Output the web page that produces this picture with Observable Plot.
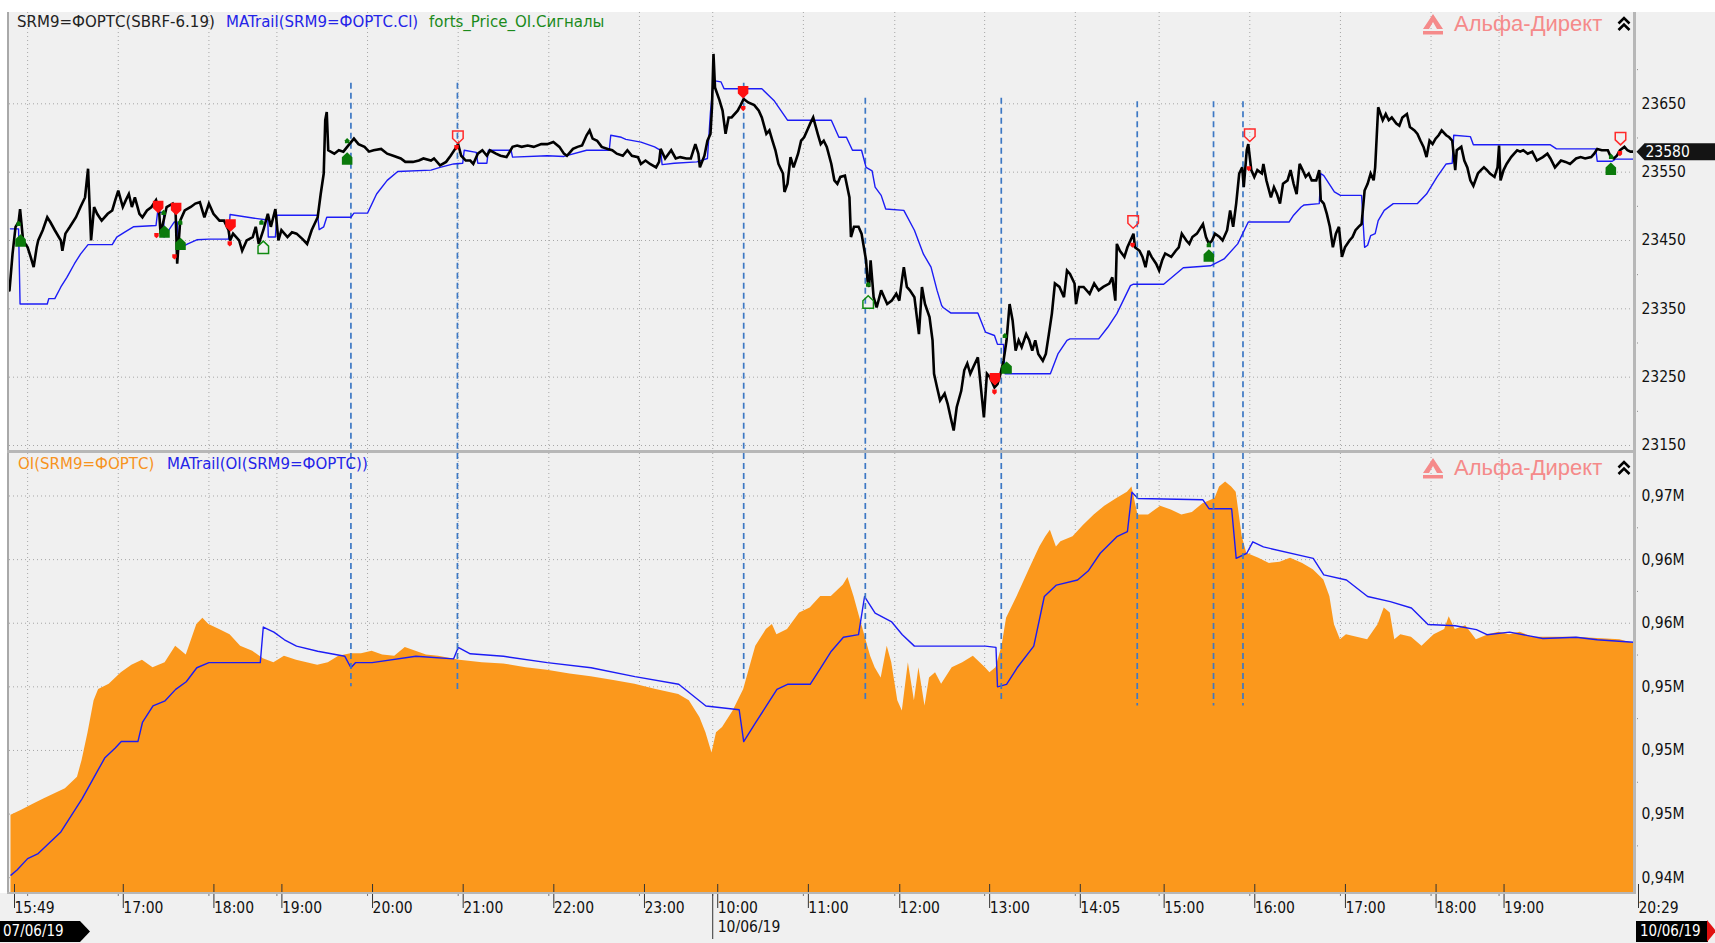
<!DOCTYPE html>
<html><head><meta charset="utf-8">
<script src="https://cdn.jsdelivr.net/npm/d3@7"></script>
<script src="https://cdn.jsdelivr.net/npm/@observablehq/plot@0.6"></script>
<style>
html,body{margin:0;padding:0;overflow:hidden;background:#fff;}
#wrap{position:relative;width:1715px;height:943px;background:#fff;overflow:hidden;}
.abs{position:absolute;}
.leg{position:absolute;font-family:"DejaVu Sans",sans-serif;font-size:15px;white-space:nowrap;line-height:18px;}
.logo{position:absolute;font-family:"Liberation Sans",Arial,sans-serif;font-size:22px;color:#f58a8a;white-space:nowrap;line-height:24px;}
.datebox{position:absolute;background:#000;color:#fff;font-family:"DejaVu Sans Condensed",sans-serif;font-size:15px;line-height:21px;height:21px;}
</style></head>
<body><div id="wrap">
<div class="abs" style="left:7px;top:12px;width:1708px;height:931px;background:#f0f0f0"></div>
<div class="abs" style="left:0;top:893px;width:1715px;height:50px;background:#f0f0f0"></div>
</div>
<script>
// ---------- DATA ----------
// x = trading minute index from 15:49 (07/06/19); session breaks removed
const timeTickIdx = [0, 72, 132, 177, 237, 297, 357, 417, 465.5, 525.5, 586, 645.5, 705.5, 761, 821, 881, 941, 986, 1075];
const timeTickLabels = ["15:49","17:00","18:00","19:00","20:00","21:00","22:00","23:00","10:00","11:00","12:00","13:00","14:05","15:00","16:00","17:00","18:00","19:00","20:29"];
const gridIdx = [12, 72, 132, 177, 237, 297, 357, 417, 465.5, 525.5, 586, 645.5, 705.5, 761, 821, 881, 941, 986];

const priceTicks = [23150, 23250, 23350, 23450, 23550, 23650];
const priceMinor = [23200, 23300, 23400, 23500, 23600, 23700];
const oiTicks = [940000, 945000, 950000, 955000, 960000, 965000, 970000];
const oiTickLabels = ["0,94M","0,95M","0,95M","0,95M","0,96M","0,96M","0,97M"];
const oiMinor = [942500, 947500, 952500, 957500, 962500, 967500];

const price = [[0,23377],[2,23430],[4,23470],[6,23477],[7,23496],[9,23450],[12,23440],[14,23426],[16,23411],[18,23440],[19,23450],[22,23465],[25,23484],[27,23477],[30,23465],[34,23450],[35,23435],[37,23460],[40,23470],[44,23484],[47,23499],[50,23513],[52,23555],[54,23450],[56,23499],[58,23489],[61,23479],[65,23489],[68,23494],[70,23509],[72,23523],[75,23499],[77,23509],[79,23518],[81,23499],[83,23513],[86,23489],[88,23484],[91,23494],[94,23499],[97,23509],[99,23494],[100,23460],[102,23479],[104,23499],[108,23504],[110,23489],[111,23416],[113,23479],[116,23494],[120,23499],[123,23504],[126,23506],[129,23484],[132,23504],[135,23489],[139,23479],[142,23479],[145,23465],[146,23450],[148,23460],[152,23450],[154,23435],[157,23450],[161,23455],[163,23470],[165,23445],[168,23465],[171,23489],[173,23470],[176,23496],[178,23450],[180,23465],[184,23455],[187,23462],[190,23460],[194,23452],[197,23445],[200,23465],[204,23484],[206,23518],[208,23548],[209,23626],[210,23638],[211,23582],[215,23577],[218,23582],[221,23580],[225,23591],[228,23599],[231,23591],[235,23587],[238,23580],[241,23582],[246,23584],[250,23577],[254,23574],[259,23570],[262,23565],[267,23565],[271,23567],[274,23570],[279,23567],
[281,23570],[285,23560],[289,23565],[292,23574],[295,23584],[297,23591],[299,23574],[302,23567],[305,23567],[307,23562],[310,23577],[313,23582],[316,23574],[318,23582],[322,23577],[325,23574],[329,23572],[333,23587],[336,23589],[339,23587],[343,23589],[347,23587],[352,23591],[356,23591],[360,23594],[364,23587],[367,23577],[369,23574],[373,23584],[376,23587],[379,23589],[382,23604],[384,23611],[386,23599],[389,23596],[392,23587],[396,23584],[399,23582],[402,23577],[406,23574],[409,23582],[412,23574],[416,23572],[418,23562],[421,23567],[424,23562],[428,23557],[430,23565],[431,23584],[434,23570],[438,23582],[441,23570],[444,23572],[448,23570],[451,23570],[454,23591],[456,23577],[457,23557],[460,23574],[462,23596],[464,23606],[465,23645],[466,23723],[467,23674],[470,23655],[472,23640],[474,23606],[476,23630],[478,23630],[482,23640],[484,23648],[486,23657],[489,23652],[493,23648],[496,23640],[498,23630],[501,23606],[503,23611],[505,23596],[507,23582],[509,23562],[512,23548],[513,23521],[515,23533],[517,23572],[519,23557],[522,23577],[524,23596],[526,23601],[528,23611],[530,23621],[532,23630],[535,23606],[537,23591],[539,23596],[541,23587],[544,23562],[546,23538],[548,23533],[550,23543],
[553,23545],[556,23513],[557,23455],[559,23470],[562,23470],[564,23460],[567,23421],[568,23391],[569,23382],[570,23421],[572,23367],[574,23352],[577,23377],[579,23367],[581,23357],[584,23362],[587,23372],[589,23362],[591,23396],[592,23411],[594,23382],[596,23377],[599,23367],[602,23313],[604,23382],[606,23357],[609,23338],[611,23304],[612,23255],[614,23235],[616,23216],[619,23226],[621,23211],[623,23191],[625,23172],[627,23206],[630,23230],[632,23260],[634,23270],[636,23255],[638,23265],[641,23279],[643,23235],[645,23191],[647,23255],[649,23250],[652,23235],[654,23240],[656,23255],[658,23274],[660,23304],[662,23357],[664,23333],[666,23289],[668,23304],[670,23294],[673,23313],[675,23304],[677,23289],[679,23304],[681,23284],[684,23274],[686,23284],[688,23313],[690,23343],[692,23387],[695,23382],[698,23367],[700,23406],[702,23401],[705,23387],[706,23357],[708,23382],[711,23382],[715,23372],[718,23387],[721,23377],[724,23382],[728,23387],[730,23396],[732,23362],[733,23445],[735,23435],[738,23426],[740,23440],[742,23450],[744,23460],[745,23440],[748,23435],[750,23426],[752,23411],[754,23435],[756,23426],[759,23416],[761,23406],[763,23421],[765,23431],[769,23426],[772,23435],[774,23440],[776,23460],[779,23450],[781,23445],[783,23455],[786,23460],[790,23474],[792,23455],[794,23445],[796,23450],[798,23460],[801,23455],[803,23450],[806,23465],[808,23494],[810,23470],[812,23504],[814,23548],[816,23557],[817,23528],[819,23582],[820,23591],[822,23553],[824,23543],[826,23553],
[829,23548],[830,23562],[832,23538],[835,23513],[837,23528],[839,23518],[841,23504],[843,23533],[846,23538],[848,23553],[850,23533],[852,23518],[854,23562],[856,23553],[858,23543],[860,23548],[862,23538],[865,23538],[867,23553],[868,23509],[870,23504],[872,23489],[874,23470],[876,23440],[878,23460],[880,23470],[882,23426],[884,23440],[887,23450],[889,23455],[891,23465],[893,23470],[895,23474],[897,23523],[899,23533],[901,23548],[903,23538],[904,23557],[905,23601],[906,23645],[909,23626],[911,23635],[913,23626],[915,23630],[918,23621],[920,23618],[922,23630],[925,23635],[927,23616],[930,23611],[932,23606],[934,23596],[936,23587],[938,23572],[940,23596],[942,23591],[944,23599],[946,23604],[948,23611],[951,23604],[953,23601],[955,23596],[957,23553],[958,23582],[961,23587],[963,23567],[965,23557],[967,23538],[969,23530],[972,23548],[974,23553],[976,23557],[978,23553],[980,23548],[983,23543],[985,23557],[986,23589],[987,23538],[989,23553],[991,23562],[994,23572],[996,23577],[998,23582],[1000,23580],[1002,23582],[1005,23577],[1008,23580],[1011,23567],[1015,23572],[1018,23577],[1020,23570],[1023,23557],[1027,23567],[1030,23565],[1033,23562],[1037,23570],[1040,23572],[1043,23570],[1047,23572],[1049,23577],[1051,23584],[1054,23582],[1058,23582],[1060,23572],[1062,23570],[1064,23574],[1066,23582],[1069,23587],[1071,23582],[1073,23580],[1075,23580]];

const priceTrail = [[0.6,23467],[6,23467],[7,23357],[25,23357],[26,23365],[30,23365],[34,23382],[38,23396],[43,23416],[47,23430],[52,23444],[68,23444],[71,23455],[76,23462],[82,23470],[97,23472],[98,23491],[102,23491],[102.3,23455],[109,23477],[111,23477],[112,23438],[118,23445],[124,23451],[132,23452],[145,23452],[146,23488],[164,23482],[171,23480],[171.3,23455],[176,23455],[177,23487],[204,23487],[205,23466],[208,23470],[210,23484],[226,23484],[228,23490],[237,23490],[243,23518],[250,23538],[257,23551],[279,23553],
[285,23557],[294,23562],[300,23563],[301,23582],[309,23579],[310,23563],[316,23563],[317,23582],[332,23582],[333,23572],[356,23574],[367,23573],[382,23582],[397,23582],[398,23604],[405,23601],[408,23598],[418,23594],[427,23587],[431,23582],[432,23561],[440,23563],[455,23565],[462,23570],[464,23638],[466,23684],[471,23682],[473,23672],[498,23672],[506,23655],[515,23626],[544,23626],[549,23601],[554,23601],[558,23582],[564,23582],[567,23557],[571,23552],[573,23528],[577,23516],[580,23496],[592,23494],[599,23465],[605,23430],[610,23411],[614,23377],[617,23355],[618,23352],[623,23344],[641,23344],[646,23316],[652,23311],[654,23298],[658,23298],[659,23255],[689,23255],[694,23284],[700,23304],[702,23306],[721,23306],[727,23323],[733,23343],[742,23384],[744,23386],[764,23386],[777,23410],[795,23413],[804,23423],[813,23445],[820,23477],[847,23477],[850,23487],[855,23499],[857,23502],[867,23504],[868,23548],[870,23545],[877,23521],[881,23516],[895,23516],[897,23440],[899,23443],[901,23457],[904,23460],[906,23479],[910,23494],[916,23504],[932,23504],[938,23518],[945,23543],[951,23562],[955,23563],[956,23604],[967,23602],[969,23590],[1020,23590],[1024,23584],[1050,23584],[1051,23566],[1061,23566],[1063,23569],[1075,23569]];

const oi = [[1,944900],[8,945300],[16,945800],[23,946200],[30,946600],[37,947000],[45,947900],[48,949200],[52,951400],[56,953900],[59,954800],[66,955200],[74,956100],[81,956700],[88,957100],[95,956500],[103,956900],[110,958200],[117,957500],[124,959900],[128,960400],[132,959900],[139,959500],[146,959100],[153,958200],[161,957800],[168,957200],[175,956900],[182,957400],[190,957100],[197,956900],[204,956700],[211,956900],[218,957400],[226,957600],[233,957600],[240,957800],[247,957500],[255,957400],[262,958100],[269,957800],[276,957500],[284,957400],[298,957100],[313,956900],[327,956800],[342,956500],[356,956300],[371,956000],[385,955800],[400,955500],[414,955200],[428,954800],[443,954400],[450,953900],[457,952600],[461,951400],[465,949800],[468,951400],[472,951800],[479,953100],[486,954800],[490,956500],[494,958200],[501,959500],[505,959900],[508,959100],[515,959500],[523,960800],[530,961200],[537,962100],[544,962100],[552,963000],[555,963600],[559,962100],[562,960800],[566,959100],[570,957400],[573,956500],[577,955700],[581,958200],[584,956900],[588,953900],[591,953100],[595,956900],[599,953900],[602,956500],[606,953500],[609,955700],[613,956100],[617,955200],[624,956500],[631,956900],[638,957400],[646,956500],[649,956100],[653,956500],[657,958200],[660,960400],[667,962100],[675,964200],[682,966000],[686,966800],[689,967300],[693,966000],[696,966400],[704,966800],[711,967700],[718,968500],[725,969200],[733,969800],[740,970300],[743,970700],[747,968500],[754,968500],[762,969200],[769,968900],[776,968500],[783,968700],[790,969400],[798,969800],[801,970700],[805,971100],[809,970700],[812,970300],[816,966800],[819,965500],[827,965100],[834,964700],[841,964800],[848,965100],[856,964700],[863,964200],[870,963400],[874,962100],[877,959900],[881,958700],[885,959100],[892,958900],[899,958700],[906,959900],[910,961200],[914,960800],[917,958700],[921,959100],[928,958900],[935,958200],[943,959100],[950,959500],[953,960500],[957,959500],[964,959800],[971,958700],[979,959100],[986,959300],[993,959100],[1000,959300],[1008,958900],[1022,958900],[1037,958900],[1051,958800],[1066,958700],[1075,958400]];

const oiTrail = [[1,940200],[5,940600],[12,941500],[19,941900],[27,942800],[34,943600],[41,944900],[48,946200],[56,947900],[63,949400],[70,950200],[74,950700],[85,950700],[88,952200],[95,953500],[103,953900],[110,954800],[117,955400],[124,956500],[132,956900],[166,956900],[168,959700],[175,959300],[182,958700],[190,958200],[204,957800],[222,957400],[226,956500],[229,956900],[240,956900],[269,957400],[294,957200],[297,958100],[305,957600],[327,957400],[356,956900],[385,956500],[414,955800],[443,955200],[461,953500],[483,953200],[486,950700],[494,952200],[501,953500],[508,954800],[515,955200],[530,955200],[537,956500],[544,957800],[552,958900],[562,959100],[566,962100],[573,960800],[584,960100],[591,959100],[599,958200],[646,958200],[653,958100],[654,955000],[660,955200],[667,956500],[678,958200],[685,962100],[693,963000],[707,963400],[714,964100],[722,965500],[733,966800],[740,967200],[743,970300],[747,969800],[790,969700],[794,969000],[809,969000],[812,965100],[819,965500],[823,966400],[830,966000],[863,965100],[870,963800],[885,963400],[899,962100],[914,961700],[928,961200],[939,959900],[957,959800],[971,959500],[978,959100],[993,959300],[1015,958800],[1037,958900],[1051,958700],[1075,958500]];

// signal vertical lines: [minute index, top price, bottom OI level]
const signalLines = [[226,23680,955000],[296.5,23680,954600],[486,23680,955600],[566.5,23658,953900],[656.5,23658,953900],[746.5,23653,953500],[797,23653,953500],[816.5,23653,953500]];

const buyFilled = [[7.3,23450],[102.6,23463],[113.2,23445],[223.5,23570],[660,23264],[793.9,23428],[1060,23555]];
const buyHollow = [[168,23440],[568.4,23360]];
const sellFilled = [[98.4,23499],[110.3,23496],[146.3,23472],[485.6,23667],[652.3,23247]];
const sellHollow = [[296.8,23601],[743.8,23477],[821,23604],[1066.4,23599]];
const buyDots = [[6,23475],[102,23491],[113,23477],[166.8,23477],[223.5,23596],[568.4,23386],[658.9,23311],[793.9,23444],[1060.2,23573]];
const sellDots = [[97.3,23457],[109.2,23426],[145.8,23445],[295.9,23586],[485.7,23643],[652,23228],[743.4,23443],[820.4,23555],[1066,23577]];
const lastPrice = 23580;

// ---------- SYMBOLS ----------
const houseUp = {draw(c, size){const r=Math.sqrt(size/Math.PI);const w=r*0.85;c.moveTo(0,-r);c.lineTo(w,-r*0.2);c.lineTo(w,r);c.lineTo(-w,r);c.lineTo(-w,-r*0.2);c.closePath();}};
const shieldDown = {draw(c, size){const r=Math.sqrt(size/Math.PI);const w=r*0.85;c.moveTo(-w,-r);c.lineTo(w,-r);c.lineTo(w,r*0.2);c.lineTo(0,r);c.lineTo(-w,r*0.2);c.closePath();}};
const tagShape = {draw(c){c.moveTo(0,0);c.lineTo(8,-8.5);c.lineTo(84,-8.5);c.lineTo(84,8.5);c.lineTo(8,8.5);c.closePath();}};

const X0 = 0, X1 = 1075;
const fx = d => d[0], fy = d => d[1];
const gridStyle = {stroke:"#a6a6a6", strokeOpacity:1, strokeDasharray:"1,3", strokeWidth:1};
const axisFont = 'DejaVu Sans Condensed, DejaVu Sans, sans-serif';

// ---------- TOP PANEL ----------
const topPlot = Plot.plot({
  width: 1715, height: 438,
  marginLeft: 9, marginRight: 82, marginTop: 0, marginBottom: 0,
  style: {background: "transparent", overflow: "visible", fontFamily: axisFont},
  x: {domain: [X0, X1], axis: null},
  y: {domain: [23142.7, 23783.6], axis: null},
  marks: [
    Plot.gridY(priceTicks, gridStyle),
    Plot.gridX(gridIdx, gridStyle),
    Plot.axisY(priceTicks, {anchor: "right", tickSize: 0, tickPadding: 8, fontSize: 15.5, fill: "#111", tickFormat: d => String(d)}),
    Plot.axisY(priceMinor, {anchor: "right", tickSize: 4, stroke: "#888", strokeDasharray: "1,2", tickFormat: () => ""}),
    Plot.ruleX(signalLines, {x: fx, y1: d => d[1], y2: 23142.7, stroke: "#3d78c4", strokeWidth: 1.7, strokeDasharray: "6,4"}),
    Plot.line(priceTrail, {x: fx, y: fy, stroke: "#1c1cf5", strokeWidth: 1.4}),
    Plot.line(price, {x: fx, y: fy, stroke: "#000", strokeWidth: 2.6, strokeLinejoin: "miter", strokeMiterlimit: 3}),
    Plot.dot(buyDots, {x: fx, y: fy, symbol: houseUp, r: 2.6, fill: "#0b7a0b"}),
    Plot.dot(sellDots, {x: fx, y: fy, symbol: shieldDown, r: 2.6, fill: "#ff1010"}),
    Plot.dot(buyFilled, {x: fx, y: fy, symbol: houseUp, r: 6.2, fill: "#0b7a0b"}),
    Plot.dot(sellFilled, {x: fx, y: fy, symbol: shieldDown, r: 6.2, fill: "#ff1010"}),
    Plot.dot(buyHollow, {x: fx, y: fy, symbol: houseUp, r: 6.2, fill: "none", stroke: "#108a10", strokeWidth: 1.5}),
    Plot.dot(sellHollow, {x: fx, y: fy, symbol: shieldDown, r: 6.2, fill: "none", stroke: "#ff2a2a", strokeWidth: 1.5}),
    Plot.dot([lastPrice], {x: () => X1, y: d => d, symbol: tagShape, r: 5, fill: "#141414", dx: 3}),
    Plot.text([lastPrice], {x: () => X1, y: d => d, text: d => String(d), fill: "#fff", fontSize: 15.5, textAnchor: "start", dx: 12})
  ]
});

// ---------- BOTTOM PANEL (+ time axis) ----------
const OIMIN = 938758, OIMAX = 973340;
const labelMap = new Map(timeTickIdx.map((d, i) => [d, timeTickLabels[i]]));
const oiLabelMap = new Map(oiTicks.map((d, i) => [d, oiTickLabels[i]]));
const bottomPlot = Plot.plot({
  width: 1715, height: 490,
  marginLeft: 9, marginRight: 82, marginTop: 0, marginBottom: 50,
  style: {background: "transparent", overflow: "visible", fontFamily: axisFont},
  x: {domain: [X0, X1], axis: null},
  y: {domain: [OIMIN, OIMAX], axis: null},
  marks: [
    Plot.gridY(oiTicks, gridStyle),
    Plot.gridX(gridIdx, gridStyle),
    Plot.areaY(oi, {x: fx, y1: OIMIN, y2: fy, fill: "#fb981c", curve: "linear"}),
    Plot.line(oiTrail, {x: fx, y: fy, stroke: "#1c1cf5", strokeWidth: 1.4}),
    Plot.ruleX(signalLines, {x: fx, y1: OIMAX, y2: d => d[2], stroke: "#3d78c4", strokeWidth: 1.7, strokeDasharray: "6,4"}),
    Plot.axisY(oiTicks, {anchor: "right", tickSize: 0, tickPadding: 8, fontSize: 15.5, fill: "#111", tickFormat: d => oiLabelMap.get(d)}),
    Plot.axisY(oiMinor, {anchor: "right", tickSize: 4, stroke: "#888", strokeDasharray: "1,2", tickFormat: () => ""}),
    Plot.axisX(gridIdx, {anchor: "bottom", tickSize: 3, stroke: "#777", tickFormat: () => ""}),
    Plot.axisX(timeTickIdx, {anchor: "bottom", tickSize: 24, tickPadding: 0, stroke: "#333", fontSize: 15.5, fill: "#111",
      textAnchor: "start", lineAnchor: "middle", dx: 5, dy: -9, tickFormat: d => labelMap.get(d)}),
    Plot.axisX([465.5], {anchor: "bottom", tickSize: 46, stroke: "#333", tickFormat: () => ""}),
    Plot.text(["10/06/19"], {x: () => 465.5, frameAnchor: "bottom", dy: 38, text: d => d, textAnchor: "start", dx: 5, fontSize: 15.5, fill: "#111"})
  ]
});

const wrap = document.getElementById("wrap");
function put(el, left, top) { el.style.position = "absolute"; el.style.left = left + "px"; el.style.top = top + "px"; wrap.appendChild(el); return el; }
put(topPlot, 0, 12);
put(bottomPlot, 0, 453);

function box(l, t, w, h, bg) { const d = document.createElement("div"); d.style.width = w + "px"; d.style.height = h + "px"; d.style.background = bg; return put(d, l, t); }
box(7, 12, 2, 881, "#a9a9a9");
box(1633, 12, 3, 881, "#b7b7b7");
box(7, 450, 1629, 3, "#b7b7b7");
box(7, 892, 1629, 2, "#b7b7b7");

function legend(text, color, l, t) { const s = document.createElement("div"); s.className = "leg"; s.style.color = color; s.textContent = text; return put(s, l, t); }
legend("SRM9=ФОРТС(SBRF-6.19)", "#222", 17, 13);
legend("MATrail(SRM9=ФОРТС.Cl)", "#2424e8", 226, 13);
legend("forts_Price_OI.Сигналы", "#1b8a1b", 429, 13);
legend("OI(SRM9=ФОРТС)", "#f7931e", 18, 455);
legend("MATrail(OI(SRM9=ФОРТС))", "#2424e8", 167, 455);

function logo(t) {
  const icon = document.createElement("div");
  icon.innerHTML = '<svg width="24" height="22" viewBox="0 0 24 22"><path d="M12 1 L22 16 H16 L12 9 L8 16 H2 Z" fill="#f58a8a"/><rect x="2" y="18" width="20" height="3.5" fill="#f58a8a"/></svg>';
  put(icon, 1421, t - 11);
  const txt = document.createElement("div"); txt.className = "logo"; txt.textContent = "Альфа-Директ";
  put(txt, 1454, t - 12);
  const chev = document.createElement("div");
  chev.innerHTML = '<svg width="14" height="16" viewBox="0 0 14 16"><path d="M1.5 7.5 L7 2 L12.5 7.5" stroke="#000" stroke-width="2.6" fill="none"/><path d="M1.5 14 L7 8.5 L12.5 14" stroke="#000" stroke-width="2.6" fill="none"/></svg>';
  put(chev, 1617, t - 8);
}
logo(24);
logo(468);

// date labels
const d1 = document.createElement("div"); d1.className = "datebox"; d1.textContent = "07/06/19";
d1.style.width = "90px"; d1.style.paddingLeft = "3px"; d1.style.clipPath = "polygon(0 0, 80px 0, 90px 50%, 80px 100%, 0 100%)";
put(d1, 0, 921);
const d2 = document.createElement("div"); d2.className = "datebox"; d2.textContent = "10/06/19";
d2.style.width = "68px"; d2.style.paddingLeft = "4px";
put(d2, 1636, 921);
const tri = document.createElement("div");
tri.style.width = "9px"; tri.style.height = "22px"; tri.style.background = "#e01010"; tri.style.clipPath = "polygon(0 0, 100% 50%, 0 100%)";
put(tri, 1707, 920);
</script>
</body></html>
